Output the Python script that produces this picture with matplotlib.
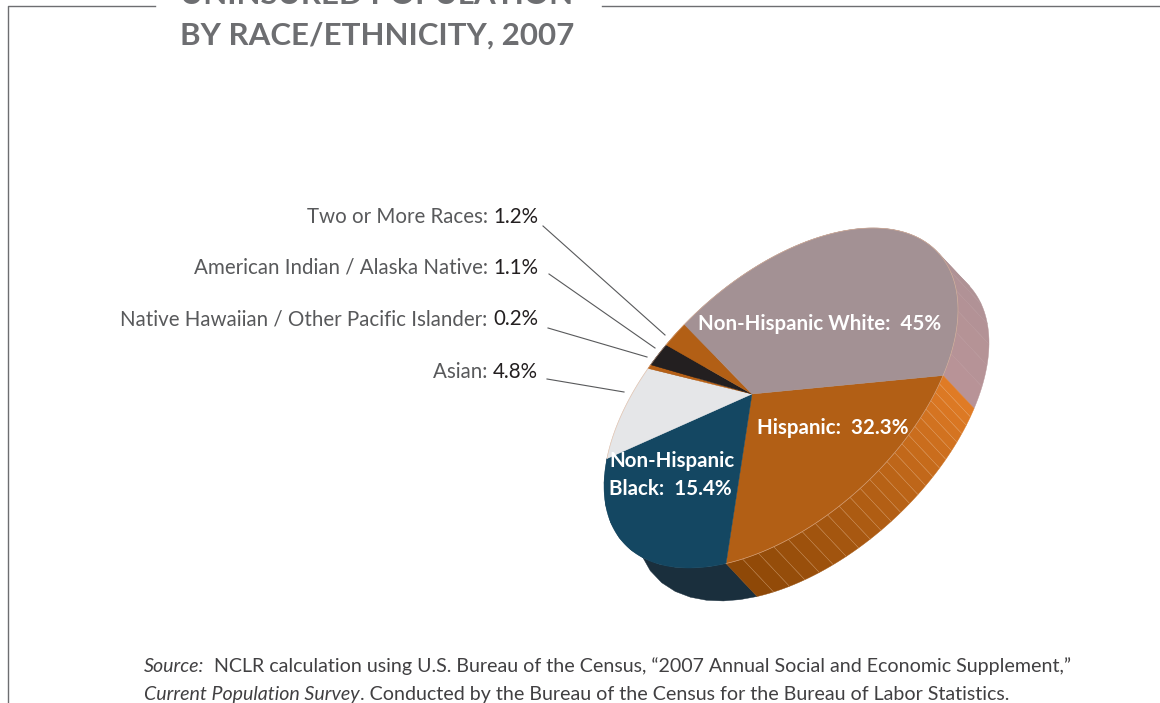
"""Uninsured population by race/ethnicity, drawn as a tilted pie with a thick rim."""

import numpy as np
import matplotlib
matplotlib.use("Agg")
import matplotlib.pyplot as plt
from matplotlib.colors import to_rgb
from matplotlib.patches import Polygon

plt.rcParams["font.family"] = ["Lato", "DejaVu Sans"]

# Slices run clockwise from the White/Hispanic edge
GROUPS = ["Hispanic", "Non-Hispanic Black", "Asian",
          "Native Hawaiian / Other Pacific Islander",
          "American Indian / Alaska Native", "Two or More Races",
          "Non-Hispanic White"]
SHARES = [32.3, 15.4, 4.8, 0.2, 1.1, 1.2, 45.0]
FACE_COLORS = ["#b25f15", "#144762", "#e5e6e8", "#b66016",
               "#231f20", "#b25f15", "#a39194"]
RIM_START = ["#e07b25", "#1a2f3d", "#e5e6e8", "#b66016",
             "#231f20", "#b25f15", "#a59193"]
RIM_END = ["#8e4807", "#1a2f3d", "#e5e6e8", "#b66016",
           "#231f20", "#b25f15", "#b89397"]
RIM_STRIPS = [23, 1, 1, 1, 1, 1, 12]

# Geometry of the tilted disc, in pixels
CX, CY = 781.0, 398.0
WX, HY = 177.0, 170.0
SKEW = np.radians(58.7)
APEX = (752.0, 394.0)
RIM_SHIFT = (31.0, 33.0)
START_T = np.radians(-23.7)
WARP = 0.285 * np.exp(-1j * np.radians(23))


def warp_angle(s):
    """Bend an even pie angle to its place on the tilted outline."""
    z = np.exp(1j * s)
    return np.angle((z + WARP) / (1 + np.conj(WARP) * z))


def outline(t):
    """Return x, y of the disc outline at parameter t."""
    return CX + WX * np.cos(t), CY - HY * np.cos(t - SKEW)


def arc_points(a, b, n=60):
    xs, ys = outline(warp_angle(np.linspace(a, b, n)))
    return np.column_stack([xs, ys])


def blend(c1, c2, f):
    return tuple((1 - f) * np.array(to_rgb(c1)) + f * np.array(to_rgb(c2)))


def draw_runs(ax, x, y, runs, size, ha="left"):
    """Draw text pieces side by side on one baseline."""
    fig = ax.figure
    renderer = fig.canvas.get_renderer()
    if ha == "right":
        runs = runs[::-1]
    for text, color, style in runs:
        t = ax.text(x, y, text, color=color, fontsize=size, style=style,
                    ha=ha, va="baseline")
        width = t.get_window_extent(renderer).width
        x = x - width if ha == "right" else x + width


fig = plt.figure(figsize=(11.6, 7.03), dpi=100)
ax = fig.add_axes([0, 0, 1, 1])
ax.set_xlim(0, 1160)
ax.set_ylim(703, 0)
ax.axis("off")

# Frame, broken where the title sits
ax.plot([8, 8, 155], [703, 5.5, 5.5], color="#6d6e71", lw=1.0)
ax.plot([602, 1160], [5.5, 5.5], color="#6d6e71", lw=1.0)

TITLE_COLOR = "#6d6e71"
ax.text(180, 4, "UNINSURED POPULATION", color=TITLE_COLOR, fontsize=22.5,
        fontweight="bold", va="baseline", clip_on=False)
ax.text(180, 45, "BY RACE/ETHNICITY, 2007", color=TITLE_COLOR, fontsize=22.5,
        fontweight="bold", va="baseline")

# Pie angles from the shares
z_start = np.exp(1j * START_T)
s0 = np.angle((z_start - WARP) / (1 - np.conj(WARP) * z_start))
edges = s0 - 2 * np.pi * np.concatenate([[0], np.cumsum(SHARES)]) / sum(SHARES)

# Rim first, the top face covers whatever faces away
for i in np.argsort(RIM_STRIPS):
    bounds = np.linspace(edges[i], edges[i + 1], RIM_STRIPS[i] + 1)
    for j in range(RIM_STRIPS[i]):
        top = arc_points(bounds[j], bounds[j + 1], 12)
        bottom = top[::-1] + RIM_SHIFT
        f = j / max(RIM_STRIPS[i] - 1, 1)
        color = blend(RIM_START[i], RIM_END[i], f)
        ax.add_patch(Polygon(np.vstack([top, bottom]), closed=True,
                             facecolor=color, edgecolor=color, lw=0.3, zorder=2))
        if GROUPS[i] == "Hispanic" and j > 0:
            ax.plot([top[0, 0], top[0, 0] + RIM_SHIFT[0]],
                    [top[0, 1], top[0, 1] + RIM_SHIFT[1]],
                    color="#f0c39a", lw=0.4, alpha=0.5, zorder=3)

for i in range(len(SHARES)):
    arc = arc_points(edges[i], edges[i + 1], 120)
    ax.add_patch(Polygon(np.vstack([[APEX], arc]), closed=True,
                         facecolor=FACE_COLORS[i], edgecolor=FACE_COLORS[i],
                         lw=0.3, zorder=4))
    if GROUPS[i] != "Non-Hispanic Black":
        ax.plot(arc[:, 0], arc[:, 1], color="#e3b79a", lw=0.5, alpha=0.7, zorder=5)

# Labels with leader lines on the left
LEFT_LABELS = ["Two or More Races: ", "American Indian / Alaska Native: ",
               "Native Hawaiian / Other Pacific Islander: ", "Asian: "]
LEFT_VALUES = ["1.2%", "1.1%", "0.2%", "4.8%"]
LABEL_Y = [223, 274, 325, 378]
LEADERS = [((543, 226), (665, 335)), ((549, 274), (655, 348)),
           ((548, 328), (647, 357)), ((547, 379), (624, 392))]
for name, value, y, (p, q) in zip(LEFT_LABELS, LEFT_VALUES, LABEL_Y, LEADERS):
    draw_runs(ax, 538, y, [(name, "#58595b", "normal"), (value, "#231f20", "normal")],
              14.8, ha="right")
    ax.plot([p[0], q[0]], [p[1], q[1]], color="#58595b", lw=0.8, zorder=1)

# Labels on the slices
for x, y, text in [(698, 330, "Non-Hispanic White:  45%"),
                   (757, 434, "Hispanic:  32.3%"),
                   (609, 467, "Non-Hispanic"),
                   (609, 495, "Black:  15.4%")]:
    ax.text(x, y, text, color="white", fontsize=14.8, fontweight="bold",
            va="baseline", zorder=6)

draw_runs(ax, 144, 672,
          [("Source:", "#414042", "italic"),
           ("  NCLR calculation using U.S. Bureau of the Census, \u201c2007 Annual "
            "Social and Economic Supplement,\u201d", "#414042", "normal")], 14.1)
draw_runs(ax, 144, 700,
          [("Current Population Survey", "#414042", "italic"),
           (". Conducted by the Bureau of the Census for the Bureau of Labor "
            "Statistics.", "#414042", "normal")], 14.1)

fig.savefig("out.png", dpi=100)
